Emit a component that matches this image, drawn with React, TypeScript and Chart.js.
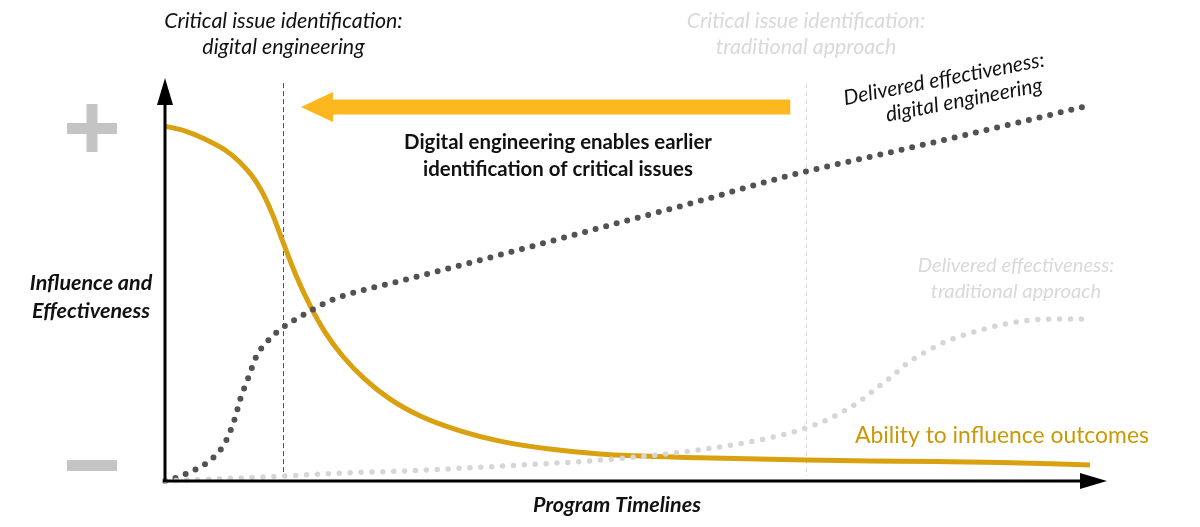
import React, { useEffect, useRef } from "react";
import { Chart, registerables } from "chart.js";

Chart.register(...registerables);

// Timeline runs 0..100 along x, influence / effectiveness runs 0..100 along y.
const abilityX = [0, 2.2, 4.3, 6.5, 8.1, 9.4, 10.5, 11.6, 12.8, 14.1, 15.7, 17.3, 19.2, 21.6, 24.3, 27.6, 31.9, 36.2, 41.6, 47.0, 57.8, 69.3, 79.5, 90.3, 100];
const abilityY = [93.4, 92.1, 90.0, 87.1, 83.9, 80.3, 76.1, 70.3, 62.6, 54.5, 46.1, 39.2, 32.9, 26.8, 21.6, 17.1, 13.2, 10.5, 8.4, 7.1, 6.1, 5.5, 5.2, 4.9, 4.2];

const digitalX = [0, 1.4, 2.5, 3.6, 4.5, 5.4, 6.2, 6.8, 7.6, 8.1, 9.0, 9.9, 11.4, 12.8, 14.6, 17.3, 19.5, 25.4, 36.2, 47.0, 57.8, 67.4, 79.5, 90.3, 99.7];
const digitalY = [0, 1.0, 2.1, 3.4, 4.7, 6.6, 8.9, 11.6, 16.8, 21.3, 27.1, 32.9, 37.6, 40.5, 43.2, 46.8, 48.9, 52.6, 59.5, 66.6, 73.7, 80.3, 87.1, 93.2, 98.7];

const traditionalX = [0, 12.8, 19.2, 25.4, 36.2, 47.0, 57.8, 67.2, 70.8, 72.8, 74.8, 76.8, 78.6, 80.3, 82.4, 84.5, 86.8, 89.0, 91.4, 93.7, 96.0, 99.7];
const traditionalY = [0, 1.3, 2.1, 2.6, 3.9, 5.5, 8.2, 12.4, 15.3, 17.6, 20.5, 24.2, 27.6, 31.1, 34.2, 36.8, 38.7, 40.3, 41.6, 42.4, 42.6, 42.6];

// Moments where critical issues get identified, on the timeline
const criticalDigitalX = 12.8;
const criticalTraditionalX = 69.3;

// "Earlier identification" arrow, from the traditional moment back to the digital one
const shiftArrowFromX = 67.6;
const shiftArrowToX = 14.7;
const shiftArrowY = 98.4;

const criticalDigitalLabel = ["Critical issue identification:", "digital engineering"];
const criticalTraditionalLabel = ["Critical issue identification:", "traditional approach"];
const shiftLabel = ["Digital engineering enables earlier", "identification of critical issues"];
const deliveredDigitalLabel = ["Delivered effectiveness:", "digital engineering"];
const deliveredTraditionalLabel = ["Delivered effectiveness:", "traditional approach"];
const abilityLabel = "Ability to influence outcomes";
const yAxisLabel = ["Influence and", "Effectiveness"];
const xAxisLabel = "Program Timelines";

const FONT = "Lato, 'Open Sans', sans-serif";
const GOLD = "#d9a00f";
const GOLD_TEXT = "#c99a06";
const ARROW = "#fcb61e";
const DARK_DOTS = "#525252";
const LIGHT_DOTS = "#d6d6d6";
const LIGHT_TEXT = "#d9d9d9";
const SIGN = "#c4c4c4";

const toPoints = (xs: number[], ys: number[]) => xs.map((x, i) => ({ x, y: ys[i] }));

function drawLines(ctx: CanvasRenderingContext2D, lines: string[], cx: number, cy: number, gap: number) {
  lines.forEach((t, i) => ctx.fillText(t, cx, cy + (i - (lines.length - 1) / 2) * gap));
}

const decorations = {
  id: "decorations",
  beforeDatasetsDraw(chart: any) {
    const { ctx, chartArea, scales } = chart;
    ctx.save();
    // identification markers
    const markers: [number, string][] = [
      [criticalDigitalX, "#555555"],
      [criticalTraditionalX, "#dddddd"],
    ];
    markers.forEach(([v, color]) => {
      const x = Math.round(scales.x.getPixelForValue(v)) + 0.5;
      ctx.strokeStyle = color;
      ctx.lineWidth = 1;
      ctx.setLineDash([5, 3]);
      ctx.beginPath();
      ctx.moveTo(x, chartArea.top - 18);
      ctx.lineTo(x, chartArea.bottom - 5);
      ctx.stroke();
    });
    ctx.restore();
  },
  afterDatasetsDraw(chart: any) {
    const { ctx, chartArea, scales } = chart;
    const { left, right, top, bottom } = chartArea;
    ctx.save();
    ctx.setLineDash([]);

    // axes with arrowheads
    ctx.strokeStyle = "#000";
    ctx.fillStyle = "#000";
    ctx.lineWidth = 3;
    ctx.beginPath();
    ctx.moveTo(left, bottom + 1);
    ctx.lineTo(left, top + 2);
    ctx.moveTo(left - 2, bottom);
    ctx.lineTo(right - 8, bottom);
    ctx.stroke();
    ctx.beginPath();
    ctx.moveTo(left, top - 23);
    ctx.lineTo(left - 8, top + 4);
    ctx.lineTo(left + 8, top + 4);
    ctx.closePath();
    ctx.fill();
    ctx.beginPath();
    ctx.moveTo(right + 17, bottom);
    ctx.lineTo(right - 10, bottom - 8);
    ctx.lineTo(right - 10, bottom + 8);
    ctx.closePath();
    ctx.fill();

    // plus / minus signs
    ctx.fillStyle = SIGN;
    const sx = left - 73;
    ctx.fillRect(sx - 25, 123, 50, 11);
    ctx.fillRect(sx - 5.5, 104, 11, 48);
    ctx.fillRect(sx - 25, 460, 50, 11);

    // shift arrow
    const ax0 = scales.x.getPixelForValue(shiftArrowFromX);
    const ax1 = scales.x.getPixelForValue(shiftArrowToX);
    const ay = scales.y.getPixelForValue(shiftArrowY);
    ctx.fillStyle = ARROW;
    ctx.beginPath();
    ctx.moveTo(ax0, ay - 7.5);
    ctx.lineTo(ax1 + 32, ay - 7.5);
    ctx.lineTo(ax1 + 32, ay - 15);
    ctx.lineTo(ax1, ay);
    ctx.lineTo(ax1 + 32, ay + 15);
    ctx.lineTo(ax1 + 32, ay + 7.5);
    ctx.lineTo(ax0, ay + 7.5);
    ctx.closePath();
    ctx.fill();

    ctx.textAlign = "center";
    ctx.textBaseline = "middle";

    const xd = scales.x.getPixelForValue(criticalDigitalX);
    const xt = scales.x.getPixelForValue(criticalTraditionalX);

    ctx.font = `italic 21.4px ${FONT}`;
    ctx.fillStyle = "#111";
    drawLines(ctx, criticalDigitalLabel, xd, 34, 26);
    ctx.fillStyle = LIGHT_TEXT;
    drawLines(ctx, criticalTraditionalLabel, xt, 34, 26);

    ctx.font = `bold 20.4px ${FONT}`;
    ctx.fillStyle = "#111";
    drawLines(ctx, shiftLabel, 558, 156, 27);

    ctx.font = `italic 20.2px ${FONT}`;
    ctx.fillStyle = LIGHT_TEXT;
    drawLines(ctx, deliveredTraditionalLabel, 1016, 278, 26);

    // tilted label along the digital engineering curve
    ctx.font = `italic 21px ${FONT}`;
    ctx.fillStyle = "#111";
    const tilt = (-11 * Math.PI) / 180;
    const tiltedLines: [string, number, number][] = [
      [deliveredDigitalLabel[0], 944, 79],
      [deliveredDigitalLabel[1], 964, 100],
    ];
    tiltedLines.forEach(([t, cx, cy]) => {
      ctx.save();
      ctx.translate(cx, cy);
      ctx.rotate(tilt);
      ctx.fillText(t, 0, 0);
      ctx.restore();
    });

    ctx.font = `22.9px ${FONT}`;
    ctx.fillStyle = GOLD_TEXT;
    ctx.fillText(abilityLabel, 1002, 436);

    ctx.font = `italic bold 21.5px ${FONT}`;
    ctx.fillStyle = "#111";
    drawLines(ctx, yAxisLabel, 91, 297, 28);
    ctx.fillText(xAxisLabel, 617, 505);

    ctx.restore();
  },
};

export default function App() {
  const ref = useRef<HTMLCanvasElement>(null);

  useEffect(() => {
    if (!ref.current) return;
    const dotted = {
      pointRadius: 0,
      borderWidth: 6,
      borderCapStyle: "round" as const,
      borderDash: [0, 10.9],
      cubicInterpolationMode: "monotone" as const,
      fill: false,
      clip: false as any,
    };
    const chart = new Chart(ref.current, {
      type: "line",
      data: {
        datasets: [
          {
            label: "Delivered effectiveness: traditional approach",
            data: toPoints(traditionalX, traditionalY),
            borderColor: LIGHT_DOTS,
            ...dotted,
            borderWidth: 5.5,
          },
          {
            label: "Delivered effectiveness: digital engineering",
            data: toPoints(digitalX, digitalY),
            borderColor: DARK_DOTS,
            ...dotted,
          },
          {
            label: abilityLabel,
            data: toPoints(abilityX, abilityY),
            borderColor: GOLD,
            borderWidth: 5,
            pointRadius: 0,
            cubicInterpolationMode: "monotone",
            fill: false,
            clip: false as any,
          },
        ],
      },
      options: {
        animation: false,
        responsive: false,
        maintainAspectRatio: false,
        layout: { padding: { left: 165, right: 110, top: 101, bottom: 46 } },
        plugins: { legend: { display: false }, tooltip: { enabled: false }, title: { display: false } },
        scales: {
          x: { type: "linear", min: 0, max: 100, display: false },
          y: { type: "linear", min: 0, max: 100, display: false },
        },
      },
      plugins: [decorations],
    });
    return () => chart.destroy();
  }, []);

  return (
    <div style={{ position: "absolute", left: 0, top: 0, width: 1200, height: 527, background: "#fff" }}>
      <canvas ref={ref} width={1200} height={527} />
    </div>
  );
}
